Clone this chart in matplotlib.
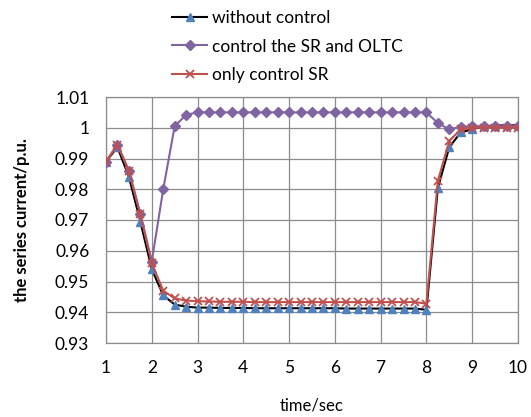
import matplotlib
matplotlib.use("Agg")
import matplotlib.pyplot as plt

plt.rcParams['font.family'] = ['Lato', 'DejaVu Sans']

time = [1.0, 1.25, 1.5, 1.75, 2.0, 2.25, 2.5, 2.75, 3.0, 3.25, 3.5, 3.75,
        4.0, 4.25, 4.5, 4.75, 5.0, 5.25, 5.5, 5.75, 6.0, 6.25, 6.5, 6.75,
        7.0, 7.25, 7.5, 7.75, 8.0, 8.25, 8.5, 8.75, 9.0, 9.25, 9.5, 9.75, 10.0]

without_control = [0.989, 0.9937, 0.984, 0.9695, 0.954, 0.9455, 0.9425, 0.9418,
                   0.9415, 0.9415, 0.9414, 0.9414, 0.9414, 0.9413, 0.9413, 0.9413,
                   0.9413, 0.9413, 0.9413, 0.9413, 0.9413, 0.9412, 0.9412, 0.9412,
                   0.9412, 0.9412, 0.9412, 0.9412, 0.9408, 0.9805, 0.9937, 0.9985,
                   0.9995, 1.0005, 1.0007, 1.0008, 1.0008]

control_sr_oltc = [0.989, 0.9945, 0.986, 0.972, 0.9565, 0.980, 1.0005, 1.0042,
                   1.005, 1.005, 1.005, 1.005, 1.005, 1.005, 1.005, 1.005,
                   1.005, 1.005, 1.005, 1.005, 1.005, 1.005, 1.005, 1.005,
                   1.005, 1.005, 1.005, 1.005, 1.005, 1.0015, 0.9995, 1.0003,
                   1.0005, 1.0005, 1.0005, 1.0005, 1.0005]

only_sr = [0.989, 0.9945, 0.986, 0.9718, 0.956, 0.947, 0.9445, 0.9438,
           0.9436, 0.9435, 0.9434, 0.9434, 0.9434, 0.9433, 0.9433, 0.9433,
           0.9433, 0.9433, 0.9433, 0.9433, 0.9433, 0.9433, 0.9433, 0.9433,
           0.9433, 0.9433, 0.9433, 0.9433, 0.9428, 0.9828, 0.9957, 0.9995,
           1.0, 1.0, 1.0, 1.0, 1.0]

labels = ["without control", "control the SR and OLTC", "only control SR"]
yticks = [0.93, 0.94, 0.95, 0.96, 0.97, 0.98, 0.99, 1.0, 1.01]
ytick_labels = ["0.93", "0.94", "0.95", "0.96", "0.97", "0.98", "0.99", "1", "1.01"]
xticks = [1, 2, 3, 4, 5, 6, 7, 8, 9, 10]

fig = plt.figure(figsize=(5.31, 4.17), dpi=100)
ax = fig.add_axes([106/531, 1 - 343/417, (518-106)/531, (343-97)/417])

l1, = ax.plot(time, without_control, color='black', lw=1.5, marker='^',
              markersize=5.5, markerfacecolor='#4F81BD', markeredgecolor='#4F81BD',
              label=labels[0], zorder=3)
l2, = ax.plot(time, control_sr_oltc, color='#8064A2', lw=1.5, marker='D',
              markersize=5.5, markerfacecolor='#8064A2', markeredgecolor='#8064A2',
              label=labels[1], zorder=4)
l3, = ax.plot(time, only_sr, color='#C0504D', lw=1.5, marker='x',
              markersize=5.5, markeredgewidth=1.3, markeredgecolor='#C0504D',
              label=labels[2], zorder=5)

ax.set_xlim(1, 10)
ax.set_ylim(0.93, 1.01)
ax.set_xticks(xticks)
ax.set_xticklabels([str(v) for v in xticks])
ax.set_yticks(yticks)
ax.set_yticklabels(ytick_labels)
ax.tick_params(length=0, labelsize=12.5)
ax.tick_params(axis='y', pad=12)
ax.tick_params(axis='x', pad=12)
ax.grid(True, color='#8c8c8c', lw=0.9)
ax.set_axisbelow(True)
for s in ax.spines.values():
    s.set_color('#8c8c8c')
    s.set_linewidth(0.9)

ax.set_xlabel("time/sec", fontsize=12, labelpad=16)
ax.set_ylabel("the series current/p.u.", fontsize=12, fontweight='bold', labelpad=18)

fig.legend(handles=[l1, l2, l3], loc='upper left', bbox_to_anchor=(162/531, 1.0),
           frameon=False, fontsize=12.5, handlelength=2.0, handletextpad=0.3,
           labelspacing=0.7, borderaxespad=0.2)

fig.savefig("out.png", dpi=100)
